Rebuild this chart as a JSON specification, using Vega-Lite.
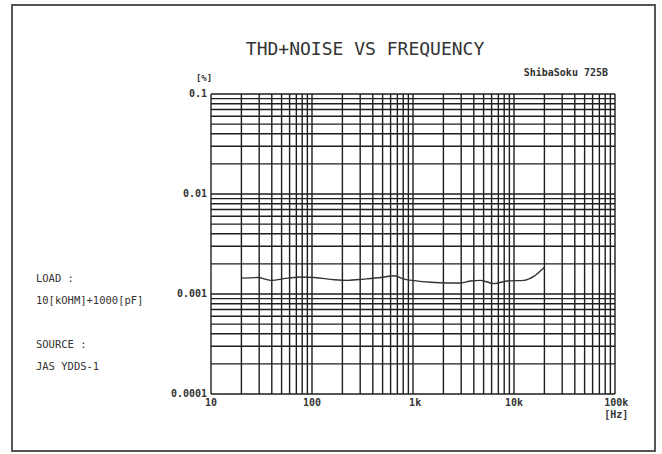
{
  "$schema": "https://vega.github.io/schema/vega-lite/v6.json",
  "width": 643,
  "height": 446,
  "autosize": {"type": "none"},
  "padding": {"left": 12, "top": 5, "right": 7, "bottom": 3},
  "background": "white",
  "config": {"view": {"stroke": "#555", "strokeWidth": 2}},
  "datasets": {
    "vgrid": [
      {"f": 10}, {"f": 20}, {"f": 30}, {"f": 40}, {"f": 50}, {"f": 60}, {"f": 70}, {"f": 80}, {"f": 90},
      {"f": 100}, {"f": 200}, {"f": 300}, {"f": 400}, {"f": 500}, {"f": 600}, {"f": 700}, {"f": 800}, {"f": 900},
      {"f": 1000}, {"f": 2000}, {"f": 3000}, {"f": 4000}, {"f": 5000}, {"f": 6000}, {"f": 7000}, {"f": 8000}, {"f": 9000},
      {"f": 10000}, {"f": 20000}, {"f": 30000}, {"f": 40000}, {"f": 50000}, {"f": 60000}, {"f": 70000}, {"f": 80000}, {"f": 90000},
      {"f": 100000}
    ],
    "hgrid": [
      {"v": 0.0001}, {"v": 0.0002}, {"v": 0.0003}, {"v": 0.0004}, {"v": 0.0005}, {"v": 0.0006}, {"v": 0.0007}, {"v": 0.0008}, {"v": 0.0009},
      {"v": 0.001}, {"v": 0.002}, {"v": 0.003}, {"v": 0.004}, {"v": 0.005}, {"v": 0.006}, {"v": 0.007}, {"v": 0.008}, {"v": 0.009},
      {"v": 0.01}, {"v": 0.02}, {"v": 0.03}, {"v": 0.04}, {"v": 0.05}, {"v": 0.06}, {"v": 0.07}, {"v": 0.08}, {"v": 0.09},
      {"v": 0.1}
    ],
    "curve": [
      {"f": 20, "v": 0.00144},
      {"f": 29, "v": 0.00146},
      {"f": 39, "v": 0.00137},
      {"f": 58, "v": 0.00144},
      {"f": 78, "v": 0.00148},
      {"f": 106, "v": 0.00146},
      {"f": 167, "v": 0.00139},
      {"f": 225, "v": 0.00137},
      {"f": 330, "v": 0.00141},
      {"f": 481, "v": 0.00146},
      {"f": 652, "v": 0.00152},
      {"f": 818, "v": 0.00141},
      {"f": 1028, "v": 0.00136},
      {"f": 1500, "v": 0.00131},
      {"f": 2190, "v": 0.00129},
      {"f": 2970, "v": 0.00129},
      {"f": 3720, "v": 0.00135},
      {"f": 4680, "v": 0.00137},
      {"f": 6340, "v": 0.00127},
      {"f": 8570, "v": 0.00135},
      {"f": 12500, "v": 0.00137},
      {"f": 15700, "v": 0.0015},
      {"f": 20000, "v": 0.00185}
    ],
    "ylabels": [
      {"f": 9.13, "v": 0.1, "t": "0.1"},
      {"f": 9.13, "v": 0.01, "t": "0.01"},
      {"f": 9.13, "v": 0.001, "t": "0.001"},
      {"f": 9.13, "v": 0.0001, "t": "0.0001"}
    ],
    "xlabels": [
      {"f": 10, "v": 0.0000813, "t": "10"},
      {"f": 100, "v": 0.0000813, "t": "100"},
      {"f": 1050, "v": 0.0000813, "t": "1k"},
      {"f": 10000, "v": 0.0000813, "t": "10k"},
      {"f": 103000, "v": 0.0000813, "t": "100k"},
      {"f": 103000, "v": 0.0000617, "t": "[Hz]"}
    ],
    "notes": [
      {"f": 0.185, "v": 0.001413, "t": "LOAD :"},
      {"f": 0.185, "v": 0.000851, "t": "10[kOHM]+1000[pF]"},
      {"f": 0.185, "v": 0.000309, "t": "SOURCE :"},
      {"f": 0.185, "v": 0.000186, "t": "JAS YDDS-1"}
    ]
  },
  "layer": [
    {
      "data": {"name": "vgrid"},
      "mark": {"type": "rule", "color": "#1e1e1e", "strokeWidth": 1.4},
      "encoding": {
        "x": {"field": "f", "type": "quantitative", "scale": {"type": "log", "domain": [0.1071, 248900], "nice": false, "zero": false}, "axis": null},
        "y": {"datum": 0.0001, "type": "quantitative", "scale": {"type": "log", "domain": [0.00002692, 0.7762], "nice": false, "zero": false}, "axis": null},
        "y2": {"datum": 0.1}
      }
    },
    {
      "data": {"name": "hgrid"},
      "mark": {"type": "rule", "color": "#1e1e1e", "strokeWidth": 1.4},
      "encoding": {
        "y": {"field": "v", "type": "quantitative", "axis": null},
        "x": {"datum": 10, "type": "quantitative", "axis": null},
        "x2": {"datum": 100000}
      }
    },
    {
      "data": {"name": "curve"},
      "mark": {"type": "line", "color": "#333", "strokeWidth": 1.4, "interpolate": "monotone"},
      "encoding": {
        "x": {"field": "f", "type": "quantitative", "axis": null},
        "y": {"field": "v", "type": "quantitative", "axis": null}
      }
    },
    {
      "data": {"name": "ylabels"},
      "mark": {"type": "text", "align": "right", "baseline": "middle", "font": "DejaVu Sans Mono", "fontSize": 10, "fontWeight": "bold", "color": "#333"},
      "encoding": {
        "x": {"field": "f", "type": "quantitative", "axis": null},
        "y": {"field": "v", "type": "quantitative", "axis": null},
        "text": {"field": "t"}
      }
    },
    {
      "data": {"name": "xlabels"},
      "mark": {"type": "text", "align": "center", "baseline": "middle", "font": "DejaVu Sans Mono", "fontSize": 10, "fontWeight": "bold", "color": "#333"},
      "encoding": {
        "x": {"field": "f", "type": "quantitative", "axis": null},
        "y": {"field": "v", "type": "quantitative", "axis": null},
        "text": {"field": "t"}
      }
    },
    {
      "data": {"name": "notes"},
      "mark": {"type": "text", "align": "left", "baseline": "middle", "font": "DejaVu Sans Mono", "fontSize": 10.5, "color": "#333"},
      "encoding": {
        "x": {"field": "f", "type": "quantitative", "axis": null},
        "y": {"field": "v", "type": "quantitative", "axis": null},
        "text": {"field": "t"}
      }
    },
    {
      "data": {"values": [{"f": 335, "v": 0.2754, "t": "THD+NOISE VS FREQUENCY"}]},
      "mark": {"type": "text", "align": "center", "baseline": "middle", "font": "DejaVu Sans Mono", "fontSize": 18, "color": "#333"},
      "encoding": {
        "x": {"field": "f", "type": "quantitative", "axis": null},
        "y": {"field": "v", "type": "quantitative", "axis": null},
        "text": {"field": "t"}
      }
    },
    {
      "data": {"values": [{"f": 85300, "v": 0.1622, "t": "ShibaSoku 725B", "a": "right"}]},
      "mark": {"type": "text", "align": "right", "baseline": "middle", "font": "DejaVu Sans Mono", "fontSize": 10, "fontWeight": "bold", "color": "#333"},
      "encoding": {
        "x": {"field": "f", "type": "quantitative", "axis": null},
        "y": {"field": "v", "type": "quantitative", "axis": null},
        "text": {"field": "t"}
      }
    },
    {
      "data": {"values": [{"f": 8.53, "v": 0.1445, "t": "[%]"}]},
      "mark": {"type": "text", "align": "center", "baseline": "middle", "font": "DejaVu Sans Mono", "fontSize": 9, "fontWeight": "bold", "color": "#333"},
      "encoding": {
        "x": {"field": "f", "type": "quantitative", "axis": null},
        "y": {"field": "v", "type": "quantitative", "axis": null},
        "text": {"field": "t"}
      }
    }
  ]
}
